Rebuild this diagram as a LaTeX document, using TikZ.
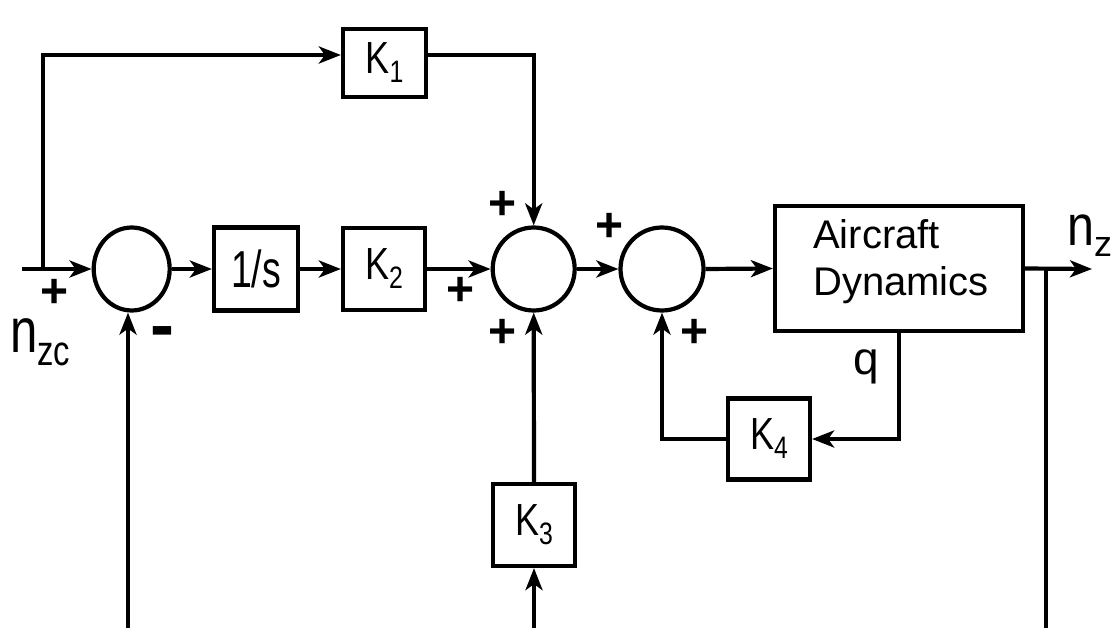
\documentclass[tikz,border=0pt]{standalone}
\usepackage{fontspec}
\setmainfont{Liberation Sans}
\usepackage{graphicx}
\usetikzlibrary{arrows.meta,shapes.geometric}
\newcommand{\Ksub}[1]{\scalebox{0.8}[1]{\fontsize{45}{45}\selectfont K\raisebox{-9pt}{\fontsize{31}{31}\selectfont #1}}}
\tikzset{
  blk/.style={draw, line width=4.2pt, inner sep=0pt, minimum width=82pt, minimum height=82pt},
  sumnode/.style={draw, ellipse, line width=4.2pt, inner sep=0pt},
  conn/.style={line width=4.2pt},
  pm/.style={inner sep=0pt, font=\fontsize{48}{48}\selectfont\bfseries},
  >={Stealth[length=22pt,width=17pt,inset=6pt]}
}
\begin{document}
\begin{tikzpicture}[x=1pt,y=-1pt]
\useasboundingbox (0,0) rectangle (1118,628);
% blocks
\node[blk, minimum width=83pt, minimum height=68pt] (k1) at (384.5,63) {\Ksub{1}};
\node[blk, minimum width=84pt, minimum height=83pt] (integ) at (256,269) {\scalebox{0.72}[1]{\fontsize{52}{52}\selectfont 1/s}};
\node[blk] (k2) at (384,269) {\Ksub{2}};
\node[blk] (k3) at (534,525) {\Ksub{3}};
\node[blk, minimum height=81pt] (k4) at (769,439) {\Ksub{4}};
\node[blk, minimum width=248pt, minimum height=125pt] (ad) at (899,268.5) {};
\node[inner sep=0pt, align=left, font=\fontsize{40}{47}\selectfont] (adt) at (901,261.5) {Aircraft\\Dynamics};
% summing junctions
\node[sumnode, minimum width=76pt, minimum height=83pt] (s1) at (131.7,269) {};
\node[sumnode, minimum width=82pt, minimum height=83pt] (s2) at (533.7,269) {};
\node[sumnode, minimum width=83pt, minimum height=83pt] (s3) at (662,269) {};
% free ends
\coordinate (in) at (22,269);
\coordinate (tl) at (43,55);
\coordinate (out) at (1092,269);
\coordinate (tap) at (1046,269);
\coordinate (tapb) at (1046,628);
\coordinate (b1) at (128,628);
\coordinate (b3) at (534,628);
% connectors
\draw[conn,->] (in) -- (s1.west);
\draw[conn,->] (in -| tl) -- (tl) -- (tl -| k1.west);
\draw[conn,->] (tl -| k1.east) -| (s2.north);
\draw[conn,->] (s1.east) -- (integ.west);
\draw[conn,->] (integ.east) -- (k2.west);
\draw[conn,->] (k2.east) -- (s2.west);
\draw[conn,->] (s2.east) -- (s3.west);
\draw[conn,->] (s3.east) -- (ad.west);
\draw[conn,->] (ad.east) -- (out);
\draw[conn] (tap) -- (tapb);
\draw[conn,->] (ad.south) |- (k4.east);
\draw[conn,->] (k4.west) -| (s3.south);
\draw[conn,->] (k3.north) -- (s2.south);
\draw[conn,->] (b3) -- (k3.south);
\draw[conn,->] (b1) -- (b1 |- s1.south);
% labels
\node[pm] (p1) at (55,293) {+};
\node[inner sep=0pt, font=\fontsize{72}{72}\selectfont\bfseries] (m1) at (162,338) {-};
\node[pm] (p2) at (503,205) {+};
\node[pm] (p3) at (461,291) {+};
\node[pm] (p4) at (503,333) {+};
\node[pm] (p5) at (610,227) {+};
\node[pm] (p6) at (695,333) {+};
\node[inner sep=0pt, font=\fontsize{46}{46}\selectfont] (q) at (866,367) {q};
\node[anchor=base west, inner sep=0pt] (nzc) at (10,352) {\scalebox{0.78}[1]{\fontsize{63}{63}\selectfont n\raisebox{-13pt}{\fontsize{42}{42}\selectfont zc}}};
\node[anchor=base west, inner sep=0pt] (nz) at (1067,245) {\scalebox{0.85}[1]{\fontsize{57}{57}\selectfont n}\raisebox{-12pt}{\fontsize{36}{36}\selectfont z}};
\end{tikzpicture}
\end{document}
